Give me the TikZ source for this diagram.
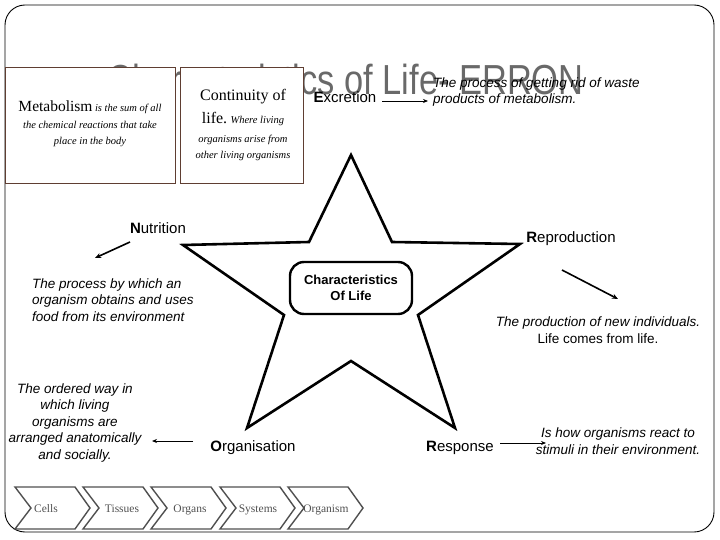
\documentclass[tikz,border=0pt]{standalone}
\usepackage{fontspec}
\setmainfont{Liberation Serif}
\setsansfont{Liberation Sans}
\usetikzlibrary{arrows.meta}
\definecolor{boxbrown}{RGB}{95,62,50}
\definecolor{titlegray}{RGB}{105,105,105}
\definecolor{chevgray}{RGB}{80,80,80}
\tikzset{
  desc/.style={inner sep=0pt, font=\sffamily\itshape\fontsize{13.5}{16.5}\selectfont},
  label/.style={inner sep=0pt, font=\sffamily\fontsize{15}{16}\selectfont},
  infobox/.style={draw=boxbrown, line width=0.9pt, fill=white, inner sep=0pt},
  chev/.style={draw=chevgray, line width=1.4pt},
  chevtext/.style={inner sep=0pt, text=chevgray, font=\rmfamily\fontsize{11.5}{12}\selectfont},
  arr/.style={-{Stealth[length=5pt,width=4pt]}, line width=0.8pt},
  thickarr/.style={-{Stealth[length=6pt,width=5pt]}, line width=1.6pt}
}
\begin{document}
\begin{tikzpicture}[x=1pt,y=-1pt]
\useasboundingbox (0,0) rectangle (720,540);
% frame
\draw[line width=0.9pt, rounded corners=20pt] (5,5) rectangle (714,532);
% title (behind boxes)
\node[anchor=base west, inner sep=0pt, text=titlegray, xscale=0.82,
      font=\sffamily\fontsize{42}{42}\selectfont] (title) at (107,95) {Characteristics of Life- ERRON};
% boxes
\draw[infobox] (5,67) rectangle (175,183);
\draw[infobox] (180,67) rectangle (303,183);
\node[inner sep=0pt, align=center] (metab) at (90,124)
  {{\fontsize{15.5}{17}\selectfont Metabolism} {\itshape\fontsize{10.5}{12}\selectfont is the sum of all}\\[5pt]
   {\itshape\fontsize{10.5}{15}\selectfont the chemical reactions that take}\\[4pt]
   {\itshape\fontsize{10.5}{15}\selectfont place in the body}};
\node[inner sep=0pt, align=center] (contin) at (243,125)
  {{\fontsize{16}{20}\selectfont Continuity of}\\[7pt]
   {\fontsize{16}{20}\selectfont life.} {\itshape\fontsize{10.5}{12}\selectfont Where living}\\[7pt]
   {\itshape\fontsize{10.5}{17}\selectfont organisms arise from}\\[4pt]
   {\itshape\fontsize{10.5}{17}\selectfont other living organisms}};
% star
\draw[line width=2.6pt, line join=miter] (351,155) -- (392,242) -- (520,244) -- (418,315) -- (455,428)
  -- (351,361) -- (247,428) -- (284,315) -- (183,245) -- (309,242) -- cycle;
\node[draw, line width=2.4pt, rounded corners=14pt, minimum width=122pt, minimum height=52pt,
      align=center, inner sep=0pt, font=\sffamily\bfseries\fontsize{13}{16}\selectfont] (center) at (351,288)
  {Characteristics\\Of Life};
% Excretion
\node[label] (excr) at (345,97) {\textbf{E}xcretion};
\node[desc, anchor=west, align=left] (excrd) at (433,92) {The process of getting rid of waste\\products of metabolism.};
\coordinate (e1) at (382,101); \coordinate (e2) at (428,101);
\draw[arr] (e1) -- (e2);
% Nutrition
\node[label] (nutr) at (158,228) {\textbf{N}utrition};
\node[desc, anchor=west, align=left] (nutrd) at (32,300) {The process by which an\\organism obtains and uses\\food from its environment};
\coordinate (n1) at (130,242); \coordinate (n2) at (95,258);
\draw[thickarr] (n1) -- (n2);
% Reproduction
\node[label] (repr) at (571,239) {\textbf{R}eproduction};
\node[desc, align=center] (reprd) at (598,330) {The production of new individuals.\\\upshape Life comes from life.};
\coordinate (r1) at (562,270); \coordinate (r2) at (618,299);
\draw[thickarr] (r1) -- (r2);
% Organisation
\node[label] (orgn) at (253,448) {\textbf{O}rganisation};
\node[desc, align=center] (orgnd) at (75,423) {The ordered way in\\which living\\organisms are\\arranged anatomically\\and socially.};
\coordinate (o1) at (193,441); \coordinate (o2) at (152,441);
\draw[arr] (o1) -- (o2);
% Response
\node[label] (resp) at (460,448) {\textbf{R}esponse};
\node[desc, align=center] (respd) at (618,441) {Is how organisms react to\\stimuli in their environment.};
\coordinate (s1) at (500,443); \coordinate (s2) at (546,443);
\draw[arr] (s1) -- (s2);
% chevrons
\foreach \s in {15,83,151,220,288} {
  \draw[chev, line join=miter] (\s,487) -- (\s+60,487) -- (\s+75,508) -- (\s+60,529) -- (\s,529) -- (\s+16,508) -- cycle;
}
\node[chevtext, anchor=base] (cells) at (46,512) {Cells};
\node[chevtext, anchor=base] (tiss) at (122,512) {Tissues};
\node[chevtext, anchor=base] (orgs) at (190,512) {Organs};
\node[chevtext, anchor=base] (syst) at (258,512) {Systems};
\node[chevtext, anchor=base] (orgm) at (326,512) {Organism};
\end{tikzpicture}
\end{document}
